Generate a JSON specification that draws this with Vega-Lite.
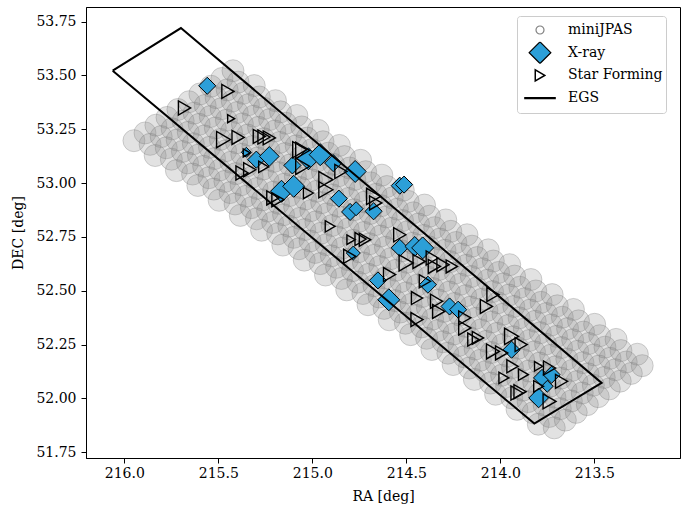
{
"$schema": "https://vega.github.io/schema/vega-lite/v6.json",
"width": 594, "height": 451,
"autosize": {"type": "none"},
"padding": {"left": 86, "top": 7, "right": 1, "bottom": 48},
"config": {
  "view": {"stroke": "black", "strokeWidth": 1},
  "font": "DejaVu Serif",
  "axis": {"labelFont": "DejaVu Serif", "titleFont": "DejaVu Serif", "labelFontSize": 14, "titleFontSize": 14, "titleFontWeight": "normal", "labelColor": "black", "titleColor": "black", "tickColor": "black", "domainColor": "black", "grid": false, "tickSize": 5},
  "legend": {"orient": "none", "legendX": 431, "legendY": 9, "padding": 3, "clipHeight": 22, "symbolOffset": 3, "labelOffset": 11, "rowPadding": 0.7, "labelFont": "DejaVu Serif", "labelFontSize": 14, "labelColor": "black", "strokeColor": "#cccccc", "fillColor": "rgba(255,255,255,0.8)", "cornerRadius": 3, "symbolOpacity": 1}
},
"datasets": {
"mini": [
{"ra":215.949,"dec":53.197},{"ra":215.890,"dec":53.233},{"ra":215.832,"dec":53.269},{"ra":215.773,"dec":53.305},{"ra":215.715,"dec":53.342},{"ra":215.656,"dec":53.378},{"ra":215.598,"dec":53.414},{"ra":215.539,"dec":53.450},{"ra":215.481,"dec":53.486},{"ra":215.422,"dec":53.522},
{"ra":215.863,"dec":53.180},{"ra":215.804,"dec":53.216},{"ra":215.746,"dec":53.252},{"ra":215.687,"dec":53.288},{"ra":215.629,"dec":53.325},{"ra":215.570,"dec":53.361},{"ra":215.512,"dec":53.397},{"ra":215.453,"dec":53.433},{"ra":215.395,"dec":53.469},
{"ra":215.836,"dec":53.128},{"ra":215.777,"dec":53.164},{"ra":215.719,"dec":53.200},{"ra":215.660,"dec":53.236},{"ra":215.602,"dec":53.273},{"ra":215.543,"dec":53.309},{"ra":215.485,"dec":53.345},{"ra":215.426,"dec":53.381},{"ra":215.368,"dec":53.417},{"ra":215.309,"dec":53.453},
{"ra":215.750,"dec":53.111},{"ra":215.691,"dec":53.147},{"ra":215.633,"dec":53.183},{"ra":215.574,"dec":53.219},{"ra":215.516,"dec":53.256},{"ra":215.457,"dec":53.292},{"ra":215.399,"dec":53.328},{"ra":215.340,"dec":53.364},{"ra":215.282,"dec":53.400},
{"ra":215.723,"dec":53.058},{"ra":215.664,"dec":53.094},{"ra":215.606,"dec":53.130},{"ra":215.547,"dec":53.166},{"ra":215.489,"dec":53.203},{"ra":215.430,"dec":53.239},{"ra":215.372,"dec":53.275},{"ra":215.313,"dec":53.311},{"ra":215.255,"dec":53.347},{"ra":215.196,"dec":53.383},
{"ra":215.637,"dec":53.042},{"ra":215.578,"dec":53.078},{"ra":215.520,"dec":53.114},{"ra":215.461,"dec":53.150},{"ra":215.403,"dec":53.187},{"ra":215.344,"dec":53.223},{"ra":215.286,"dec":53.259},{"ra":215.227,"dec":53.295},{"ra":215.169,"dec":53.331},
{"ra":215.609,"dec":52.989},{"ra":215.550,"dec":53.025},{"ra":215.492,"dec":53.061},{"ra":215.433,"dec":53.097},{"ra":215.375,"dec":53.134},{"ra":215.316,"dec":53.170},{"ra":215.258,"dec":53.206},{"ra":215.199,"dec":53.242},{"ra":215.141,"dec":53.278},{"ra":215.082,"dec":53.314},
{"ra":215.524,"dec":52.972},{"ra":215.465,"dec":53.008},{"ra":215.407,"dec":53.044},{"ra":215.348,"dec":53.080},{"ra":215.290,"dec":53.117},{"ra":215.231,"dec":53.153},{"ra":215.173,"dec":53.189},{"ra":215.114,"dec":53.225},{"ra":215.056,"dec":53.261},
{"ra":215.496,"dec":52.920},{"ra":215.437,"dec":52.956},{"ra":215.379,"dec":52.992},{"ra":215.320,"dec":53.028},{"ra":215.262,"dec":53.065},{"ra":215.203,"dec":53.101},{"ra":215.145,"dec":53.137},{"ra":215.086,"dec":53.173},{"ra":215.028,"dec":53.209},{"ra":214.969,"dec":53.245},
{"ra":215.411,"dec":52.903},{"ra":215.352,"dec":52.939},{"ra":215.294,"dec":52.975},{"ra":215.235,"dec":53.011},{"ra":215.177,"dec":53.048},{"ra":215.118,"dec":53.084},{"ra":215.060,"dec":53.120},{"ra":215.001,"dec":53.156},{"ra":214.943,"dec":53.192},
{"ra":215.383,"dec":52.850},{"ra":215.324,"dec":52.886},{"ra":215.266,"dec":52.922},{"ra":215.207,"dec":52.958},{"ra":215.149,"dec":52.995},{"ra":215.090,"dec":53.031},{"ra":215.032,"dec":53.067},{"ra":214.973,"dec":53.103},{"ra":214.915,"dec":53.139},{"ra":214.856,"dec":53.175},
{"ra":215.297,"dec":52.834},{"ra":215.238,"dec":52.870},{"ra":215.180,"dec":52.906},{"ra":215.121,"dec":52.942},{"ra":215.063,"dec":52.979},{"ra":215.004,"dec":53.015},{"ra":214.946,"dec":53.051},{"ra":214.887,"dec":53.087},{"ra":214.829,"dec":53.123},
{"ra":215.270,"dec":52.781},{"ra":215.211,"dec":52.817},{"ra":215.153,"dec":52.853},{"ra":215.094,"dec":52.889},{"ra":215.036,"dec":52.926},{"ra":214.977,"dec":52.962},{"ra":214.919,"dec":52.998},{"ra":214.860,"dec":53.034},{"ra":214.802,"dec":53.070},{"ra":214.743,"dec":53.106},
{"ra":215.184,"dec":52.764},{"ra":215.125,"dec":52.800},{"ra":215.067,"dec":52.836},{"ra":215.008,"dec":52.872},{"ra":214.950,"dec":52.909},{"ra":214.891,"dec":52.945},{"ra":214.833,"dec":52.981},{"ra":214.774,"dec":53.017},{"ra":214.716,"dec":53.053},
{"ra":215.157,"dec":52.712},{"ra":215.098,"dec":52.748},{"ra":215.040,"dec":52.784},{"ra":214.981,"dec":52.820},{"ra":214.923,"dec":52.857},{"ra":214.864,"dec":52.893},{"ra":214.806,"dec":52.929},{"ra":214.747,"dec":52.965},{"ra":214.689,"dec":53.001},{"ra":214.630,"dec":53.037},
{"ra":215.071,"dec":52.695},{"ra":215.012,"dec":52.731},{"ra":214.954,"dec":52.767},{"ra":214.895,"dec":52.803},{"ra":214.837,"dec":52.840},{"ra":214.778,"dec":52.876},{"ra":214.720,"dec":52.912},{"ra":214.661,"dec":52.948},{"ra":214.603,"dec":52.984},
{"ra":215.043,"dec":52.642},{"ra":214.984,"dec":52.678},{"ra":214.926,"dec":52.714},{"ra":214.867,"dec":52.750},{"ra":214.809,"dec":52.787},{"ra":214.750,"dec":52.823},{"ra":214.692,"dec":52.859},{"ra":214.633,"dec":52.895},{"ra":214.575,"dec":52.931},{"ra":214.516,"dec":52.967},
{"ra":214.958,"dec":52.626},{"ra":214.899,"dec":52.662},{"ra":214.841,"dec":52.698},{"ra":214.782,"dec":52.734},{"ra":214.724,"dec":52.771},{"ra":214.665,"dec":52.807},{"ra":214.607,"dec":52.843},{"ra":214.548,"dec":52.879},{"ra":214.490,"dec":52.915},
{"ra":214.930,"dec":52.573},{"ra":214.871,"dec":52.609},{"ra":214.813,"dec":52.645},{"ra":214.754,"dec":52.681},{"ra":214.696,"dec":52.718},{"ra":214.637,"dec":52.754},{"ra":214.579,"dec":52.790},{"ra":214.520,"dec":52.826},{"ra":214.462,"dec":52.862},{"ra":214.403,"dec":52.898},
{"ra":214.845,"dec":52.557},{"ra":214.786,"dec":52.593},{"ra":214.728,"dec":52.629},{"ra":214.669,"dec":52.665},{"ra":214.611,"dec":52.702},{"ra":214.552,"dec":52.738},{"ra":214.494,"dec":52.774},{"ra":214.435,"dec":52.810},{"ra":214.377,"dec":52.846},
{"ra":214.817,"dec":52.504},{"ra":214.758,"dec":52.540},{"ra":214.700,"dec":52.576},{"ra":214.641,"dec":52.612},{"ra":214.583,"dec":52.649},{"ra":214.524,"dec":52.685},{"ra":214.466,"dec":52.721},{"ra":214.407,"dec":52.757},{"ra":214.349,"dec":52.793},{"ra":214.290,"dec":52.829},
{"ra":214.731,"dec":52.487},{"ra":214.672,"dec":52.523},{"ra":214.614,"dec":52.559},{"ra":214.555,"dec":52.595},{"ra":214.497,"dec":52.632},{"ra":214.438,"dec":52.668},{"ra":214.380,"dec":52.704},{"ra":214.321,"dec":52.740},{"ra":214.263,"dec":52.776},
{"ra":214.704,"dec":52.435},{"ra":214.645,"dec":52.471},{"ra":214.587,"dec":52.507},{"ra":214.528,"dec":52.543},{"ra":214.470,"dec":52.580},{"ra":214.411,"dec":52.616},{"ra":214.353,"dec":52.652},{"ra":214.294,"dec":52.688},{"ra":214.236,"dec":52.724},{"ra":214.177,"dec":52.760},
{"ra":214.618,"dec":52.418},{"ra":214.559,"dec":52.454},{"ra":214.501,"dec":52.490},{"ra":214.442,"dec":52.526},{"ra":214.384,"dec":52.563},{"ra":214.325,"dec":52.599},{"ra":214.267,"dec":52.635},{"ra":214.208,"dec":52.671},{"ra":214.150,"dec":52.707},
{"ra":214.591,"dec":52.365},{"ra":214.532,"dec":52.401},{"ra":214.474,"dec":52.437},{"ra":214.415,"dec":52.473},{"ra":214.357,"dec":52.510},{"ra":214.298,"dec":52.546},{"ra":214.240,"dec":52.582},{"ra":214.181,"dec":52.618},{"ra":214.123,"dec":52.654},{"ra":214.064,"dec":52.690},
{"ra":214.505,"dec":52.349},{"ra":214.446,"dec":52.385},{"ra":214.388,"dec":52.421},{"ra":214.329,"dec":52.457},{"ra":214.271,"dec":52.494},{"ra":214.212,"dec":52.530},{"ra":214.154,"dec":52.566},{"ra":214.095,"dec":52.602},{"ra":214.037,"dec":52.638},
{"ra":214.477,"dec":52.296},{"ra":214.418,"dec":52.332},{"ra":214.360,"dec":52.368},{"ra":214.301,"dec":52.404},{"ra":214.243,"dec":52.441},{"ra":214.184,"dec":52.477},{"ra":214.126,"dec":52.513},{"ra":214.067,"dec":52.549},{"ra":214.009,"dec":52.585},{"ra":213.950,"dec":52.621},
{"ra":214.392,"dec":52.279},{"ra":214.333,"dec":52.315},{"ra":214.275,"dec":52.351},{"ra":214.216,"dec":52.387},{"ra":214.158,"dec":52.424},{"ra":214.099,"dec":52.460},{"ra":214.041,"dec":52.496},{"ra":213.982,"dec":52.532},{"ra":213.924,"dec":52.568},
{"ra":214.364,"dec":52.227},{"ra":214.305,"dec":52.263},{"ra":214.247,"dec":52.299},{"ra":214.188,"dec":52.335},{"ra":214.130,"dec":52.372},{"ra":214.071,"dec":52.408},{"ra":214.013,"dec":52.444},{"ra":213.954,"dec":52.480},{"ra":213.896,"dec":52.516},{"ra":213.837,"dec":52.552},
{"ra":214.279,"dec":52.210},{"ra":214.220,"dec":52.246},{"ra":214.162,"dec":52.282},{"ra":214.103,"dec":52.318},{"ra":214.045,"dec":52.355},{"ra":213.986,"dec":52.391},{"ra":213.928,"dec":52.427},{"ra":213.869,"dec":52.463},{"ra":213.811,"dec":52.499},
{"ra":214.251,"dec":52.157},{"ra":214.192,"dec":52.193},{"ra":214.134,"dec":52.229},{"ra":214.075,"dec":52.265},{"ra":214.017,"dec":52.302},{"ra":213.958,"dec":52.338},{"ra":213.900,"dec":52.374},{"ra":213.841,"dec":52.410},{"ra":213.783,"dec":52.446},{"ra":213.724,"dec":52.482},
{"ra":214.165,"dec":52.141},{"ra":214.106,"dec":52.177},{"ra":214.048,"dec":52.213},{"ra":213.989,"dec":52.249},{"ra":213.931,"dec":52.286},{"ra":213.872,"dec":52.322},{"ra":213.814,"dec":52.358},{"ra":213.755,"dec":52.394},{"ra":213.697,"dec":52.430},
{"ra":214.138,"dec":52.088},{"ra":214.079,"dec":52.124},{"ra":214.021,"dec":52.160},{"ra":213.962,"dec":52.196},{"ra":213.904,"dec":52.233},{"ra":213.845,"dec":52.269},{"ra":213.787,"dec":52.305},{"ra":213.728,"dec":52.341},{"ra":213.670,"dec":52.377},{"ra":213.611,"dec":52.413},
{"ra":214.052,"dec":52.071},{"ra":213.993,"dec":52.107},{"ra":213.935,"dec":52.143},{"ra":213.876,"dec":52.179},{"ra":213.818,"dec":52.216},{"ra":213.759,"dec":52.252},{"ra":213.701,"dec":52.288},{"ra":213.642,"dec":52.324},{"ra":213.584,"dec":52.360},
{"ra":214.025,"dec":52.019},{"ra":213.966,"dec":52.055},{"ra":213.908,"dec":52.091},{"ra":213.849,"dec":52.127},{"ra":213.791,"dec":52.164},{"ra":213.732,"dec":52.200},{"ra":213.674,"dec":52.236},{"ra":213.615,"dec":52.272},{"ra":213.557,"dec":52.308},{"ra":213.498,"dec":52.344},
{"ra":213.939,"dec":52.002},{"ra":213.880,"dec":52.038},{"ra":213.822,"dec":52.074},{"ra":213.763,"dec":52.110},{"ra":213.705,"dec":52.147},{"ra":213.646,"dec":52.183},{"ra":213.588,"dec":52.219},{"ra":213.529,"dec":52.255},{"ra":213.471,"dec":52.291},
{"ra":213.911,"dec":51.949},{"ra":213.852,"dec":51.985},{"ra":213.794,"dec":52.021},{"ra":213.735,"dec":52.057},{"ra":213.677,"dec":52.094},{"ra":213.618,"dec":52.130},{"ra":213.560,"dec":52.166},{"ra":213.501,"dec":52.202},{"ra":213.443,"dec":52.238},{"ra":213.384,"dec":52.274},
{"ra":213.826,"dec":51.933},{"ra":213.767,"dec":51.969},{"ra":213.709,"dec":52.005},{"ra":213.650,"dec":52.041},{"ra":213.592,"dec":52.078},{"ra":213.533,"dec":52.114},{"ra":213.475,"dec":52.150},{"ra":213.416,"dec":52.186},{"ra":213.358,"dec":52.222},
{"ra":213.798,"dec":51.880},{"ra":213.739,"dec":51.916},{"ra":213.681,"dec":51.952},{"ra":213.622,"dec":51.988},{"ra":213.564,"dec":52.025},{"ra":213.505,"dec":52.061},{"ra":213.447,"dec":52.097},{"ra":213.388,"dec":52.133},{"ra":213.330,"dec":52.169},{"ra":213.271,"dec":52.205},
{"ra":213.713,"dec":51.863},{"ra":213.654,"dec":51.899},{"ra":213.596,"dec":51.935},{"ra":213.537,"dec":51.971},{"ra":213.479,"dec":52.008},{"ra":213.420,"dec":52.044},{"ra":213.362,"dec":52.080},{"ra":213.303,"dec":52.116},{"ra":213.245,"dec":52.152}
],
"xray": [
{"ra":215.559,"dec":53.452,"w":2},{"ra":215.351,"dec":53.143,"w":1},{"ra":215.298,"dec":53.109,"w":2},{"ra":215.229,"dec":53.124,"w":2.5},
{"ra":215.106,"dec":53.082,"w":2},{"ra":215.021,"dec":53.113,"w":3},{"ra":214.958,"dec":53.132,"w":3},{"ra":214.889,"dec":53.093,"w":2},
{"ra":214.772,"dec":53.054,"w":3},{"ra":215.164,"dec":52.962,"w":3},{"ra":215.099,"dec":52.985,"w":3},{"ra":214.859,"dec":52.928,"w":2},
{"ra":214.799,"dec":52.866,"w":2},{"ra":214.767,"dec":52.881,"w":1.5},{"ra":214.674,"dec":52.869,"w":2},{"ra":214.535,"dec":52.988,"w":2},
{"ra":214.512,"dec":52.993,"w":2},{"ra":214.651,"dec":52.548,"w":2},{"ra":214.593,"dec":52.458,"w":3},{"ra":214.535,"dec":52.699,"w":2},
{"ra":214.455,"dec":52.706,"w":2.5},{"ra":214.413,"dec":52.699,"w":3},{"ra":214.385,"dec":52.528,"w":2},{"ra":214.270,"dec":52.427,"w":2},
{"ra":214.224,"dec":52.412,"w":2},{"ra":213.940,"dec":52.226,"w":2},{"ra":213.778,"dec":52.095,"w":2},{"ra":213.727,"dec":52.110,"w":2},
{"ra":213.796,"dec":52.002,"w":2.5},{"ra":213.750,"dec":52.056,"w":1.2},{"ra":214.782,"dec":52.675,"w":1.5}
],
"sf": [
{"ra":215.449,"dec":53.426,"w":2},{"ra":215.680,"dec":53.349,"w":2},{"ra":215.432,"dec":53.299,"w":1},{"ra":215.472,"dec":53.202,"w":2.5},
{"ra":215.395,"dec":53.212,"w":2},{"ra":215.282,"dec":53.217,"w":2},{"ra":215.257,"dec":53.214,"w":2},{"ra":215.229,"dec":53.210,"w":2},
{"ra":215.349,"dec":53.140,"w":1},{"ra":215.374,"dec":53.047,"w":2},{"ra":215.333,"dec":53.062,"w":2},{"ra":215.259,"dec":53.075,"w":1.5},
{"ra":215.067,"dec":53.155,"w":2.5},{"ra":215.051,"dec":53.152,"w":2.5},{"ra":215.051,"dec":53.078,"w":2.5},{"ra":214.928,"dec":53.016,"w":2.5},
{"ra":214.928,"dec":52.969,"w":2.5},{"ra":215.021,"dec":52.954,"w":1.5},{"ra":215.210,"dec":52.931,"w":2},{"ra":215.183,"dec":52.923,"w":2},
{"ra":214.848,"dec":53.054,"w":2},{"ra":214.674,"dec":52.938,"w":2.5},{"ra":214.663,"dec":52.908,"w":2},{"ra":214.905,"dec":52.799,"w":1.5},
{"ra":214.794,"dec":52.737,"w":1.2},{"ra":214.743,"dec":52.740,"w":1.8},{"ra":214.720,"dec":52.737,"w":1.8},{"ra":214.801,"dec":52.660,"w":2},
{"ra":214.535,"dec":52.760,"w":2},{"ra":214.501,"dec":52.629,"w":2.5},{"ra":214.432,"dec":52.636,"w":2},{"ra":214.362,"dec":52.652,"w":2},
{"ra":214.351,"dec":52.613,"w":2},{"ra":214.305,"dec":52.621,"w":2},{"ra":214.258,"dec":52.613,"w":1.8},{"ra":214.589,"dec":52.575,"w":2},
{"ra":214.443,"dec":52.466,"w":1.8},{"ra":214.339,"dec":52.451,"w":2},{"ra":214.328,"dec":52.404,"w":2},{"ra":214.443,"dec":52.366,"w":2},
{"ra":214.189,"dec":52.374,"w":2},{"ra":214.189,"dec":52.327,"w":2},{"ra":214.143,"dec":52.273,"w":1.8},{"ra":214.119,"dec":52.281,"w":1.8},
{"ra":214.074,"dec":52.427,"w":2},{"ra":214.039,"dec":52.482,"w":2},{"ra":214.039,"dec":52.218,"w":2.2},{"ra":213.993,"dec":52.211,"w":2},
{"ra":213.940,"dec":52.288,"w":2.5},{"ra":213.889,"dec":52.250,"w":2},{"ra":213.981,"dec":52.095,"w":1.5},{"ra":213.935,"dec":52.149,"w":1.8},
{"ra":213.877,"dec":52.110,"w":1.5},{"ra":213.911,"dec":52.025,"w":2},{"ra":213.895,"dec":52.031,"w":2},{"ra":213.796,"dec":52.149,"w":1.2},
{"ra":213.738,"dec":52.141,"w":2},{"ra":213.674,"dec":52.079,"w":2},{"ra":213.738,"dec":51.986,"w":2.2},{"ra":214.401,"dec":52.544,"w":1.8},
{"ra":213.796,"dec":52.056,"w":1.5}
],
"egs": [
{"ra":216.062,"dec":53.522,"k":0},{"ra":215.699,"dec":53.720,"k":1},{"ra":213.461,"dec":52.072,"k":2},{"ra":213.819,"dec":51.883,"k":3},{"ra":216.062,"dec":53.522,"k":4}
],
"sets": [{"set":"miniJPAS"},{"set":"X-ray"},{"set":"Star Forming"},{"set":"EGS"}]
},
"encoding": {
  "x": {"field": "ra", "type": "quantitative",
        "scale": {"domain": [213.044, 216.204], "reverse": true, "nice": false, "zero": false},
        "axis": {"values": [216, 215.5, 215, 214.5, 214, 213.5], "format": ".1f", "title": "RA [deg]", "labelPadding": 3, "titlePadding": 9}},
  "y": {"field": "dec", "type": "quantitative",
        "scale": {"domain": [51.723, 53.818], "nice": false, "zero": false},
        "axis": {"values": [51.75, 52, 52.25, 52.5, 52.75, 53, 53.25, 53.5, 53.75], "format": ".2f", "title": "DEC [deg]", "labelPadding": 5, "titlePadding": 10}}
},
"layer": [
  {"data": {"name": "mini"},
   "mark": {"type": "point", "shape": "circle", "size": 484, "filled": true, "fill": "#8c8c8c", "fillOpacity": 0.25, "stroke": "#707070", "strokeOpacity": 0.3, "strokeWidth": 1}},
  {"data": {"name": "xray"},
   "mark": {"type": "point", "shape": "diamond", "filled": true, "fill": "#2c9fd8", "fillOpacity": 1, "stroke": "black", "strokeWidth": 1, "opacity": 1},
   "encoding": {
     "size": {"field": "w", "type": "quantitative", "scale": {"domain": [1, 3], "range": [100, 484]}, "legend": null}
   }},
  {"data": {"name": "sf"},
   "mark": {"type": "point", "shape": "triangle-right", "filled": false, "stroke": "black", "strokeWidth": 1.4, "opacity": 1},
   "encoding": {
     "size": {"field": "w", "type": "quantitative", "scale": {"domain": [1, 3], "range": [64, 330]}, "legend": null}
   }},
  {"data": {"name": "egs"},
   "mark": {"type": "line", "stroke": "black", "strokeWidth": 2},
   "encoding": {"order": {"field": "k", "type": "quantitative"}}},
  {"data": {"name": "sets"},
   "mark": {"type": "point", "filled": true},
   "encoding": {
     "shape": {"field": "set", "type": "nominal", "scale": {"domain": ["miniJPAS", "X-ray", "Star Forming", "EGS"], "range": ["circle", "diamond", "triangle-right", "stroke"]}, "legend": {"title": null}},
     "fill": {"field": "set", "type": "nominal", "scale": {"domain": ["miniJPAS", "X-ray", "Star Forming", "EGS"], "range": ["transparent", "#2c9fd8", "transparent", "transparent"]}, "legend": {"title": null}},
     "stroke": {"field": "set", "type": "nominal", "scale": {"domain": ["miniJPAS", "X-ray", "Star Forming", "EGS"], "range": ["#808080", "black", "black", "black"]}, "legend": {"title": null}},
     "size": {"field": "set", "type": "nominal", "scale": {"type": "ordinal", "domain": ["miniJPAS", "X-ray", "Star Forming", "EGS"], "range": [64, 470, 120, 1000]}, "legend": {"title": null}},
     "strokeWidth": {"field": "set", "type": "nominal", "scale": {"type": "ordinal", "domain": ["miniJPAS", "X-ray", "Star Forming", "EGS"], "range": [1.2, 1.2, 1.5, 2.2]}, "legend": {"title": null}}
   }}
],
"resolve": {"scale": {"size": "independent", "shape": "independent", "fill": "independent", "stroke": "independent", "strokeWidth": "independent"}}
}
